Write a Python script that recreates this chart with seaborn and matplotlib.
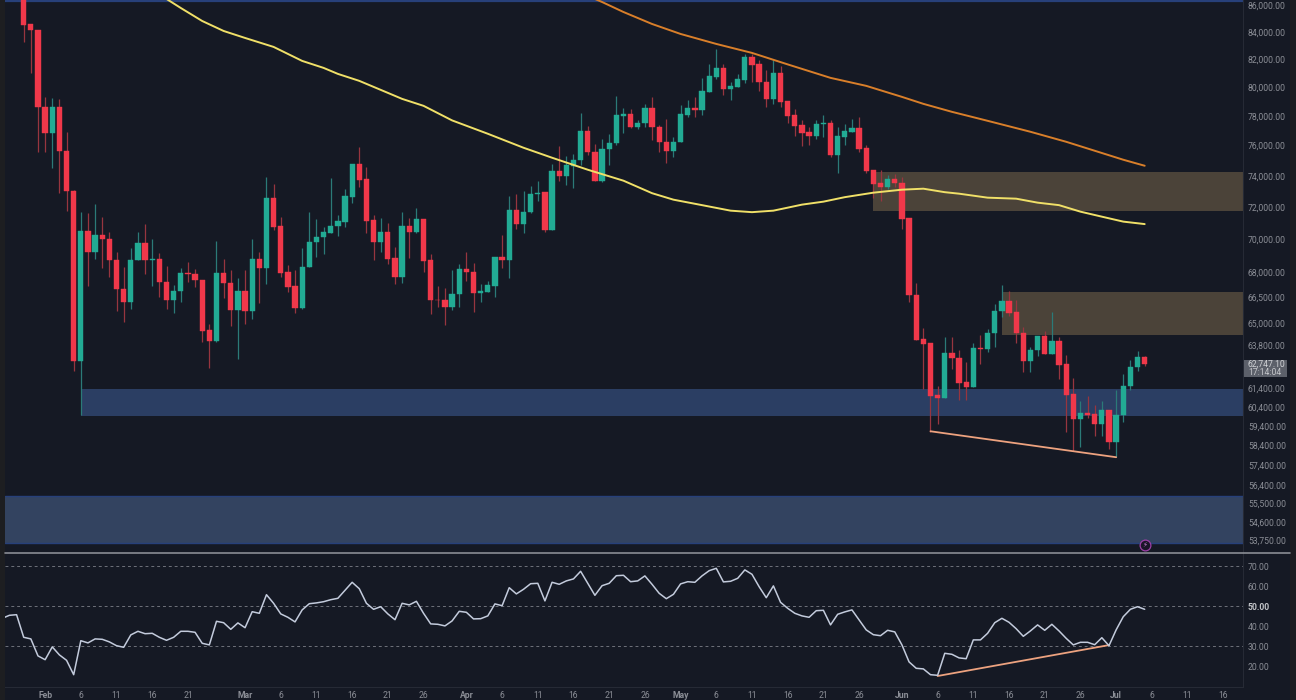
"""BTC daily candles with 100/200 MAs, zones and an RSI pane."""
import matplotlib
matplotlib.use("Agg")
import matplotlib.pyplot as plt
from matplotlib.patches import Rectangle
from matplotlib.ticker import NullLocator
import numpy as np
import pandas as pd
import seaborn as sns

# Candles, one per day, first one on this date
first_date = pd.Timestamp("2026-01-29")

opens = [
    87000, 84580, 84134, 78640, 76867, 78640, 75662, 73053, 62877, 70534,
    69246, 70286, 70041, 68762, 67035, 66217, 68762, 69796, 68762, 68823,
    67448, 66333, 66917, 67982, 67922, 67566, 64610, 63990, 67982, 67389,
    65754, 66917, 65697, 68823, 68282, 72606, 70844, 68042, 67212, 65869,
    68342, 69857, 70165, 70410, 70844, 71094, 72670, 74805, 73825, 71218,
    69857, 70472, 68884, 67746, 70844, 70472, 71281, 68762, 66391, 66333,
    65927, 66742, 68222, 68042, 66800, 66859, 67212, 68945, 68762, 71845,
    70970, 71719, 72861, 72989, 70596, 74346, 74021, 74671, 75067, 77000,
    75596, 73697, 75795, 76194, 78021, 78158, 77272, 77543, 78570, 77272,
    76261, 75662, 76261, 78090, 78570, 78432, 79680, 80737, 81376, 79890,
    80032, 80524, 82165, 81663, 80383, 79190, 81020, 79054, 78090, 77408,
    76934, 76666, 77475, 77543, 75398, 76596, 76934, 77204, 75862, 74411,
    73565, 73309, 73825, 73565, 71344, 66683, 64102, 63878, 61030, 60869,
    63320, 63042, 61730, 61459, 63598, 63542, 64441, 65697, 66275, 65640,
    64441, 62877, 63486, 64271, 63265, 63990, 62712, 61083, 59758, 60074,
    60021, 59496, 60231, 58565, 59968, 61513, 62547, 63098,
]
closes = [
    84505, 84134, 78640, 76867, 78640, 75662, 73053, 62877, 70534, 69246,
    70286, 70041, 68762, 67035, 66217, 68762, 69796, 68762, 68823, 67448,
    66333, 66917, 67982, 67922, 67566, 64554, 63990, 67982, 67389, 65754,
    66917, 65697, 68823, 68282, 72606, 70782, 67982, 67153, 65869, 68342,
    69857, 70165, 70472, 70844, 71156, 72734, 74805, 73761, 71156, 69857,
    70472, 68823, 67746, 70844, 70472, 71281, 68702, 66333, 66333, 65927,
    66742, 68222, 68042, 66800, 66917, 67271, 68945, 68762, 71845, 70970,
    71719, 72861, 72925, 70596, 74346, 74021, 74737, 75067, 77000, 75596,
    73697, 75795, 76194, 78090, 78158, 77272, 77543, 78570, 77272, 76261,
    75662, 76261, 78158, 78570, 78432, 79750, 80807, 81376, 79890, 80102,
    80595, 82165, 81591, 80383, 79190, 81020, 78985, 78021, 77340, 76867,
    76666, 77475, 77543, 75398, 76666, 77000, 77204, 75795, 74346, 73501,
    73309, 73825, 73565, 71281, 66683, 64046, 63822, 60976, 60869, 63320,
    63042, 61676, 61459, 63598, 63542, 64441, 65697, 66275, 65583, 64441,
    62877, 63486, 64271, 63265, 63990, 62657, 61030, 59758, 60074, 59968,
    59496, 60231, 58565, 59968, 61513, 62547, 63098, 62747,
]
highs = [
    87500, 84580, 84134, 79330, 79260, 79190, 76934, 73117, 71719, 71656,
    72226, 71404, 70472, 69246, 68342, 69490, 70472, 70970, 70041, 69185,
    68402, 67271, 68282, 68642, 68222, 67566, 64952, 69918, 68823, 68162,
    67686, 68162, 70041, 69246, 73956, 73501, 71404, 68462, 68162, 69490,
    71719, 71281, 70782, 73891, 71530, 73181, 74805, 75928, 74608, 71530,
    71344, 71032, 69551, 71719, 71344, 71971, 71281, 69124, 67212, 67094,
    68162, 68522, 69246, 68582, 67330, 67507, 68945, 70286, 72734, 72861,
    73053, 73373, 73697, 72989, 74805, 75995, 75331, 75463, 78226, 77340,
    76127, 76462, 76800, 79400, 78570, 78501, 77747, 78846, 79330, 77408,
    77816, 76596, 78777, 79123, 79330, 80666, 81663, 82744, 81663, 80383,
    80949, 82383, 82383, 81949, 81233, 81949, 81520, 79054, 78501, 77747,
    77272, 77747, 78090, 77747, 77272, 77475, 77816, 77953, 76060, 74411,
    74411, 74086, 74151, 73956, 71344, 67389, 64724, 63878, 61513, 64215,
    64215, 63486, 62822, 63878, 64328, 64667, 66101, 67271, 66917, 66391,
    64781, 63654, 64271, 64554, 65640, 64215, 63209, 61946, 60709, 60976,
    60496, 60709, 60231, 61297, 62165, 62932, 63431, 63154,
]
lows = [
    83253, 81020, 75596, 75596, 74539, 72925, 71782, 62328, 59968, 67212,
    68819, 68282, 67746, 65697, 65066, 65811, 68762, 67922, 67212, 66566,
    65811, 65583, 66217, 67448, 67153, 63934, 62492, 63934, 66450, 64838,
    62987, 64952, 65237, 66159, 67330, 70596, 67746, 66859, 65583, 65811,
    68342, 68945, 69124, 70410, 70227, 70782, 72289, 73309, 70410, 68762,
    69246, 68522, 67330, 67389, 68884, 70410, 68042, 65526, 65927, 64895,
    65754, 65927, 67507, 65640, 66217, 66859, 66566, 68282, 67686, 70658,
    70410, 71656, 72415, 70472, 70596, 73697, 73437, 73245, 74737, 75398,
    73697, 73633, 74737, 76060, 76867, 77204, 77136, 77272, 76395, 75596,
    74869, 75265, 76261, 77953, 77953, 78090, 79680, 80595, 79470, 79123,
    80032, 80313, 80383, 79750, 78640, 78846, 78640, 77543, 76666, 75995,
    76060, 76462, 76596, 75265, 74216, 76060, 76934, 75596, 74216, 72606,
    72415, 73181, 73309, 70658, 66217, 64046, 61351, 59080, 59496, 60869,
    62437, 60762, 60762, 61459, 62712, 63376, 63654, 65351, 65408, 63878,
    62273, 62273, 63154, 63265, 63265, 61892, 59080, 58104, 58308, 59810,
    58873, 58873, 58206, 57799, 59602, 61297, 62328, 62602,
]

# RSI starts three days before the first candle
rsi_start = -3
rsi_values = [
    44, 45.5, 45.8,
    34.5, 33.7, 25.2, 23.3, 29.7, 25.7, 23, 15.8, 32.8, 31.7,
    33.7, 33.5, 32.2, 30.3, 29.5, 35.7, 37.5, 36.3, 36.5, 34.5,
    33, 34.5, 37.5, 37.5, 37, 31.5, 30.7, 42.5, 41.8, 38.5,
    41.7, 39.3, 47.3, 46.5, 55.8, 51.5, 46.2, 44.5, 42.2, 48.2,
    51.3, 51.7, 52.3, 53.3, 54, 58, 62, 58.8, 51.5, 48.5,
    49.8, 46.2, 43.3, 51.5, 50.7, 52.5, 46.5, 41.2, 41, 40.2,
    42.7, 47.5, 47, 43.7, 43.8, 45.2, 51.2, 50.3, 59.3, 56.2,
    58.5, 61.3, 61.5, 52.7, 62, 61, 62.7, 63.7, 67.5, 61.5,
    55.5, 60.3, 61.5, 65.3, 65.5, 62.3, 62.7, 65.2, 61, 56.5,
    53.8, 56, 61.2, 62.3, 62, 65.2, 67.8, 69, 62.2, 62.5,
    64, 68.2, 66, 59.8, 54.3, 60.2, 52, 49, 46.5, 45.2,
    44.5, 47.8, 48, 40.7, 46, 47.2, 48.2, 43.2, 38.2, 35.8,
    35.3, 38, 37.2, 30.7, 22.2, 19, 18.7, 15.8, 15.5, 26.5,
    26, 24.2, 23.8, 33.2, 33.2, 36.5, 41.8, 44, 42, 38.8,
    35, 37.7, 40.7, 38, 41, 37.7, 34, 30.7, 32, 32,
    30.8, 34.3, 30.3, 38.2, 44.8, 48.5, 49.8, 48.5,
]

# Moving averages, read at a few days along each curve
ma_yellow_days = [20, 22, 25, 28, 31, 35, 39, 42, 44, 47, 51, 53, 56, 60, 65, 70, 74, 79, 84, 88,
                  91, 95, 99, 102, 105, 107, 109, 112, 115, 119, 123, 126, 129, 131, 135, 139,
                  142, 145, 148, 151, 154, 157]
ma_yellow_vals = [86460, 85775, 84800, 84060, 83546, 82890, 81877, 81376, 80949, 80454,
                  79610, 79190, 78708, 77706, 76800, 75862, 75199, 74411, 73697, 72893,
                  72478, 72131, 71782, 71687, 71782, 71971, 72163, 72352, 72638, 72925,
                  73117, 73181, 72957, 72861, 72606, 72542, 72289, 72131, 71719, 71404,
                  71094, 70940]
ma_orange_days = [80, 81, 84, 88, 92, 97, 102, 107, 113, 118, 123, 126, 130, 135, 141, 146, 150,
                  154, 157]
ma_orange_vals = [86460, 86228, 85473, 84579, 83840, 83108, 82455, 81627, 80666, 80102,
                  79330, 78846, 78295, 77679, 76934, 76261, 75662, 75067, 74671]

# Zones: start day, low, high
zone_blue_mid = (8, 59905, 61351)
zone_blue_low = (-3, 53605, 55865)
zone_tan_top = (119, 71782, 74281)
zone_tan_mid = (137, 64328, 66859)

# Divergence lines: day pairs and values
price_trend_days = [127, 153]
price_trend_vals = [59132, 57799]
rsi_trend_days = [128, 152]
rsi_trend_vals = [15.15, 30.6]

price_ticks = [86000, 84000, 82000, 80000, 78000, 76000, 74000, 72000, 70000, 68000, 66500, 65000,
               63800, 61400, 60400, 59400, 58400, 57400, 56400, 55500, 54600, 53750]
rsi_ticks = [70, 60, 50, 40, 30, 20]
rsi_dashes = [70, 50, 30]
date_ticks = ["02-01", "02-06", "02-11", "02-16", "02-21", "03-01", "03-06", "03-11", "03-16",
              "03-21", "03-26", "04-01", "04-06", "04-11", "04-16", "04-21", "04-26", "05-01",
              "05-06", "05-11", "05-16", "05-21", "05-26", "06-01", "06-06", "06-11", "06-16",
              "06-21", "06-26", "07-01", "07-06", "07-11", "07-16"]
month_names = {"02": "Feb", "03": "Mar", "04": "Apr", "05": "May", "06": "Jun", "07": "Jul"}

last_price = "62,747.10"
countdown = "17:14:04"

BG = "#151924"
STRIPE = "#1d1e21"
GRID_EDGE = "#262a35"
UP = "#22ab94"
DOWN = "#f0384a"
UP_WICK = "#2b7a78"
DOWN_WICK = "#97353f"
TICK = "#8b8e96"
W, H = 1296, 700

sns.set_theme(style="dark")
plt.rcParams["font.family"] = ["Roboto", "DejaVu Sans"]

df = pd.DataFrame({"open": opens, "high": highs, "low": lows, "close": closes})
df["day"] = np.arange(len(df))
df["up"] = df["close"] >= df["open"]

rsi = pd.DataFrame({"day": np.arange(len(rsi_values)) + rsi_start, "rsi": rsi_values})

fig = plt.figure(figsize=(W / 100, H / 100), dpi=100, facecolor=BG)
ax = fig.add_axes([5 / W, (H - 552) / H, 1238 / W, 552 / H], facecolor=BG)
ax_rsi = fig.add_axes([5 / W, (H - 687) / H, 1238 / W, 134 / H], facecolor=BG)

# side stripes of the screenshot
for left, width in [(0, 5), (1290, 6)]:
    fig.add_artist(Rectangle((left / W, 0), width / W, 1, transform=fig.transFigure, color=STRIPE, lw=0))

xlim = (-2.62, 170.77)
ax.set_yscale("log")

# zones
for (start, lo, hi), col in [(zone_blue_mid, "#2b3e63"), (zone_blue_low, "#334360"),
                             (zone_tan_top, "#4b4339"), (zone_tan_mid, "#4b4339")]:
    ax.add_patch(Rectangle((start, lo), xlim[1] - start, hi - lo, color=col, lw=0, zorder=1))
for lvl in [zone_blue_low[1], zone_blue_low[2]]:
    ax.axhline(lvl, color="#27407a", lw=1.0, zorder=1.5)
ax.axhline(86300, color="#27407a", lw=1.6, zorder=1.5)

# candles
for is_up, wick_col, body_col in [(True, UP_WICK, UP), (False, DOWN_WICK, DOWN)]:
    part = df[df["up"] == is_up]
    ax.vlines(part["day"], part["low"], part["high"], color=wick_col, lw=0.9, zorder=2)
    ax.bar(part["day"], (part["close"] - part["open"]).abs(),
           bottom=part[["open", "close"]].min(axis=1),
           width=0.74, color=body_col, edgecolor=body_col, linewidth=0.3, zorder=3)

sns.lineplot(x=ma_yellow_days, y=ma_yellow_vals, color="#f0e068", lw=1.4, ax=ax, zorder=4)
sns.lineplot(x=ma_orange_days, y=ma_orange_vals, color="#d97f2a", lw=1.4, ax=ax, zorder=4)
sns.lineplot(x=price_trend_days, y=price_trend_vals, color="#eda27f", lw=1.3, ax=ax, zorder=4)

ax.set_xlim(xlim)
ax.set_ylim(53180, 86379)
ax.yaxis.set_minor_locator(NullLocator())
ax.set_yticks(price_ticks)
ax.set_yticklabels([f"{v:,.2f}" for v in price_ticks])
ax.yaxis.tick_right()
ax.tick_params(axis="y", length=0, pad=3.5, labelsize=6.2, labelcolor=TICK)
ax.set_xticks([])
ax.set_xlabel("")
ax.set_ylabel("")

# last price tag
tag_x = ax.get_yaxis_transform()
ax.add_patch(Rectangle((1.0006, 62000), 43 / 1238, 932, transform=tag_x, color="#5c606a",
                       lw=0, clip_on=False, zorder=5))
ax.text(1.0040, 62712, last_price, transform=tag_x, color="#d0d2d6", fontsize=6.2,
        va="center", clip_on=False, zorder=6)
ax.text(1.0040, 62273, countdown, transform=tag_x, color="#c4c6ca", fontsize=6.2,
        va="center", clip_on=False, zorder=6)

# lightning badge on the lower edge
ax.scatter([157], [53500], s=60, facecolor="#1a1528", edgecolor="#9c3fa6", lw=0.9,
           clip_on=False, zorder=6)
ax.text(157, 53500, "\u26a1", color="#c77fd0", fontsize=5, ha="center", va="center",
        family="DejaVu Sans", clip_on=False, zorder=7)

# RSI pane
for lvl in rsi_dashes:
    ax_rsi.axhline(lvl, color="#6e717a", lw=0.7, ls=(0, (3, 3)), zorder=1)
sns.lineplot(data=rsi, x="day", y="rsi", color="#c3cbdc", lw=1.1, ax=ax_rsi, zorder=3)
sns.lineplot(x=rsi_trend_days, y=rsi_trend_vals, color="#eda27f", lw=1.3, ax=ax_rsi, zorder=2)
ax_rsi.set_xlim(xlim)
ax_rsi.set_ylim(9.65, 76.65)
ax_rsi.set_yticks(rsi_ticks)
ax_rsi.set_yticklabels([f"{v:.2f}" for v in rsi_ticks])
ax_rsi.yaxis.tick_right()
ax_rsi.tick_params(axis="y", length=0, pad=3.5, labelsize=6.2, labelcolor=TICK)
for lab, v in zip(ax_rsi.get_yticklabels(), rsi_ticks):
    if v == 50:
        lab.set_fontweight("bold")
        lab.set_color("#c4c6ca")

tick_days = [(pd.Timestamp(f"2026-{d}") - first_date).days for d in date_ticks]
tick_labels = [month_names[d[:2]] if d.endswith("-01") else str(int(d[3:])) for d in date_ticks]
ax_rsi.set_xticks(tick_days)
ax_rsi.set_xticklabels(tick_labels)
ax_rsi.tick_params(axis="x", length=0, pad=3, labelsize=6.2, labelcolor=TICK)
for lab, d in zip(ax_rsi.get_xticklabels(), date_ticks):
    if d.endswith("-01"):
        lab.set_fontweight("bold")
ax_rsi.set_xlabel("")
ax_rsi.set_ylabel("")

for a in (ax, ax_rsi):
    for side in ("top", "left"):
        a.spines[side].set_visible(False)
    a.spines["right"].set_color(GRID_EDGE)
    a.spines["right"].set_linewidth(0.8)
ax.spines["bottom"].set_visible(False)
ax_rsi.spines["bottom"].set_color(GRID_EDGE)
ax_rsi.spines["bottom"].set_linewidth(0.8)

# pane separator
fig.add_artist(plt.Line2D([5 / W, 1290 / W], [(H - 552.5) / H] * 2, transform=fig.transFigure,
                          color="#8a8d94", lw=1.2))

fig.savefig("out.png", dpi=100, facecolor=BG)
